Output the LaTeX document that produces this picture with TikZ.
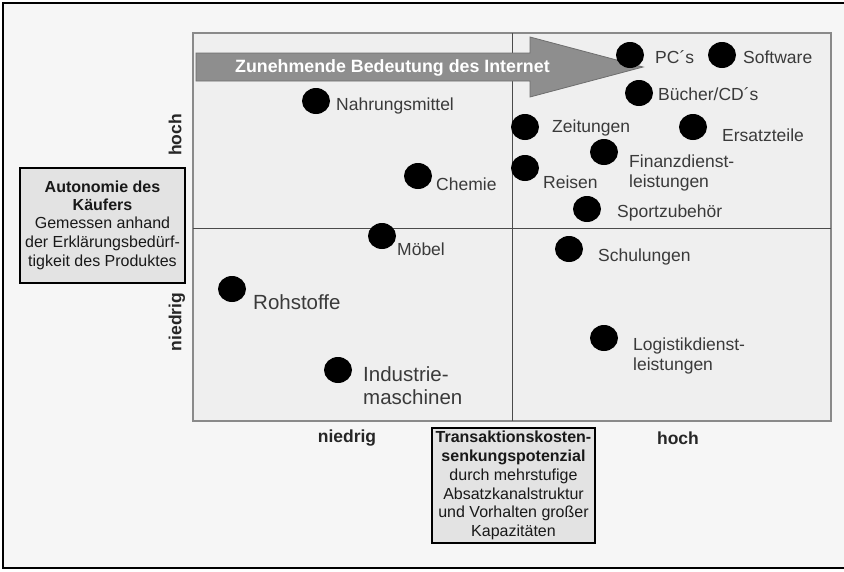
\documentclass[tikz,border=0pt]{standalone}
\usepackage{fontspec}
\setmainfont{Liberation Sans}
\usetikzlibrary{shapes.geometric}
\definecolor{bg}{HTML}{F6F6F6}
\definecolor{plotfill}{HTML}{EFEFEF}
\definecolor{plotedge}{HTML}{8A8A8A}
\definecolor{divline}{HTML}{4A4A4A}
\definecolor{txt}{HTML}{3A3A3A}
\definecolor{arrowfill}{HTML}{8E8E8E}
\definecolor{arrowedge}{HTML}{6E6E6E}
\definecolor{boxfill}{HTML}{E3E3E3}
\begin{document}
\begin{tikzpicture}[x=1pt,y=-1pt,
  dot/.style={ellipse, fill=black, minimum width=28pt, minimum height=26pt, inner sep=0pt},
  lbl/.style={anchor=west, inner sep=0pt, text=txt, align=left, font=\fontsize{17.5}{20}\selectfont},
  biglbl/.style={lbl, font=\fontsize{20.5}{23}\selectfont},
  axislbl/.style={inner sep=0pt, text=black!85, font=\bfseries\fontsize{17.5}{21}\selectfont},
  infobox/.style={draw=black, line width=1.6pt, fill=boxfill, align=center, inner sep=0pt, text=black!90, font=\fontsize{16}{18.8}\selectfont}]
\useasboundingbox (0,0) rectangle (844,571);
\fill[white] (0,0) rectangle (844,571);
\fill[bg] (3,3) rectangle (844,568);
\draw[line width=2pt] (844,3) -- (3,3) -- (3,568) -- (844,568);
% plot area
\draw[plotedge, fill=plotfill, line width=1.2pt] (193,33) rectangle (831,421);
\draw[divline, line width=1pt] (512,33) -- (512,421);
\draw[divline, line width=1pt] (193,228) -- (831,228);
% arrow
\draw[arrowedge, fill=arrowfill, line width=0.8pt] (196,53) -- (530,53) -- (530,37) -- (643,67) -- (530,97) -- (530,81) -- (196,81) -- cycle;
\node[anchor=west, inner sep=0pt, text=white, font=\bfseries\fontsize{17.8}{21}\selectfont] (arrowtext) at (235,68) {Zunehmende Bedeutung des Internet};
% dots and labels
\node[dot] (pc) at (630,55) {};
\node[lbl] (pcl) at (655,57) {PC´s};
\node[dot] (sw) at (722,55) {};
\node[lbl] (swl) at (743,57) {Software};
\node[dot] (bu) at (639,93) {};
\node[lbl] (bul) at (658,94) {Bücher/CD´s};
\node[dot] (na) at (316,101) {};
\node[lbl] (nal) at (336,106) {Nahrungsmittel};
\node[dot] (ze) at (525,127) {};
\node[lbl] (zel) at (552,128) {Zeitungen};
\node[dot] (er) at (693,127) {};
\node[lbl] (erl) at (722,135) {Ersatzteile};
\node[dot] (fi) at (604,152) {};
\node[lbl] (fil) at (629,173) {Finanzdienst-\\leistungen};
\node[dot] (re) at (525,168) {};
\node[lbl] (rel) at (543,182) {Reisen};
\node[dot] (ch) at (418,176) {};
\node[lbl] (chl) at (436,184) {Chemie};
\node[dot] (sp) at (587,209) {};
\node[lbl] (spl) at (617,213) {Sportzubehör};
\node[dot] (mo) at (382,236) {};
\node[lbl] (mol) at (397,249) {Möbel};
\node[dot] (sc) at (569,249) {};
\node[lbl] (scl) at (598,257) {Schulungen};
\node[dot] (ro) at (232,289) {};
\node[biglbl] (rol) at (253,302) {Rohstoffe};
\node[dot] (lo) at (604,338) {};
\node[lbl] (lol) at (633,356) {Logistikdienst-\\leistungen};
\node[dot] (in) at (338,370) {};
\node[biglbl] (inl) at (363,385.5) {Industrie-\\maschinen};
% axis labels
\node[axislbl, rotate=90] (yhoch) at (175,135) {hoch};
\node[axislbl, rotate=90] (yniedrig) at (177,322) {niedrig};
\node[axislbl] (xniedrig) at (347,438) {niedrig};
\node[axislbl] (xhoch) at (678,438) {hoch};
% info boxes
\node[infobox, minimum width=165pt, minimum height=115pt] (ybox) at (102.5,225.5)
  {\textbf{Autonomie des}\\[-1.5pt]\textbf{Käufers}\\Gemessen anhand\\der Erklärungsbedürf-\\tigkeit des Produktes};
\node[infobox, minimum width=163pt, minimum height=115pt] (xbox) at (513.5,485.5)
  {\textbf{Transaktionskosten-}\\\textbf{senkungspotenzial}\\durch mehrstufige\\Absatzkanalstruktur\\und Vorhalten großer\\Kapazitäten};
\end{tikzpicture}
\end{document}
